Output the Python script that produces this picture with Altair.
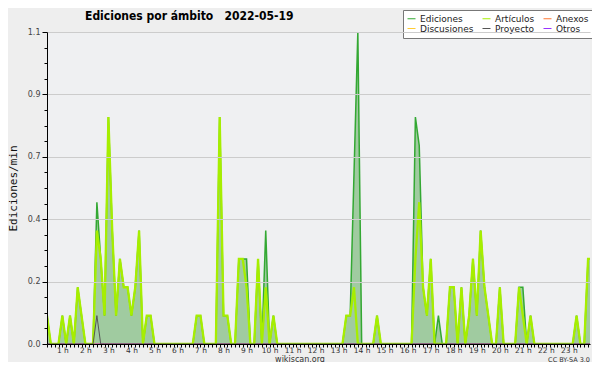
import altair as alt
import pandas as pd

# time of each sample, minutes after midnight (10-minute bins)
minutes = list(range(20, 1450, 10))

ediciones = [
    0.1, 0, 0, 0, 0.1, 0, 0.1, 0, 0.2, 0.1,            # 0-9
    0, 0, 0, 0.5, 0.3, 0.1, 0.8, 0.4, 0.1, 0.3,        # 10-19
    0.2, 0.2, 0.1, 0.2, 0.4, 0, 0.1, 0.1, 0, 0,        # 20-29
    0, 0, 0, 0, 0, 0, 0, 0, 0, 0.1,                    # 30-39
    0.1, 0, 0, 0, 0, 0.8, 0.1, 0.1, 0, 0,              # 40-49
    0.3, 0.3, 0.3, 0, 0, 0.3, 0, 0.4, 0, 0.1,          # 50-59
    0, 0, 0, 0, 0, 0, 0, 0, 0, 0,                      # 60-69
    0, 0, 0, 0, 0, 0, 0, 0, 0.1, 0.1,                  # 70-79
    0.6, 1.1, 0, 0, 0, 0, 0.1, 0, 0, 0,                # 80-89
    0, 0, 0, 0, 0, 0, 0.8, 0.7, 0.2, 0.1,              # 90-99
    0.3, 0, 0.1, 0, 0, 0.2, 0.2, 0, 0.2, 0,            # 100-109
    0.1, 0.3, 0.1, 0.4, 0.2, 0.1, 0, 0, 0.2, 0,        # 110-119
    0, 0, 0, 0.2, 0.2, 0, 0.1, 0, 0, 0,                # 120-129
    0, 0, 0, 0, 0, 0, 0, 0, 0.1, 0,                    # 130-139
    0, 0.3, 0.3,                                       # 140-142
]

articulos = [
    0.1, 0, 0, 0, 0.1, 0, 0.1, 0, 0.2, 0.1,
    0, 0, 0, 0.4, 0.3, 0.1, 0.8, 0.4, 0.1, 0.3,
    0.2, 0.2, 0.1, 0.2, 0.4, 0, 0.1, 0.1, 0, 0,
    0, 0, 0, 0, 0, 0, 0, 0, 0, 0.1,
    0.1, 0, 0, 0, 0, 0.8, 0.1, 0.1, 0, 0,
    0.3, 0.3, 0.2, 0, 0, 0.3, 0, 0.2, 0, 0.1,
    0, 0, 0, 0, 0, 0, 0, 0, 0, 0,
    0, 0, 0, 0, 0, 0, 0, 0, 0.1, 0.1,
    0.2, 0, 0, 0, 0, 0, 0.1, 0, 0, 0,
    0, 0, 0, 0, 0, 0, 0.3, 0.5, 0.2, 0.1,
    0.3, 0, 0, 0, 0, 0.2, 0.2, 0, 0.2, 0,
    0.1, 0.3, 0.1, 0.4, 0.2, 0.1, 0, 0, 0.2, 0,
    0, 0, 0, 0.2, 0.1, 0, 0.1, 0, 0, 0,
    0, 0, 0, 0, 0, 0, 0, 0, 0.1, 0,
    0, 0.3, 0.3,
]

proyecto = [0] * 13 + [0.1] + [0] * 129
anexos = [0] * 143
discusiones = [0] * 143
otros = [0] * 143

series_names = ["Ediciones", "Artículos", "Anexos", "Discusiones", "Proyecto", "Otros"]
series_colors = ["#33a833", "#a6ee00", "#ff7733", "#ffcc33", "#555555", "#9933ff"]
series_values = [ediciones, articulos, anexos, discusiones, proyecto, otros]

y_major = [0, 0.22, 0.44, 0.66, 0.88, 1.1]
y_ticks = [0, 0.055, 0.11, 0.165, 0.22, 0.275, 0.33, 0.385, 0.44, 0.495, 0.55,
           0.605, 0.66, 0.715, 0.77, 0.825, 0.88, 0.935, 0.99, 1.045, 1.1]
x_ticks = list(range(20, 1440, 10))

title_text = ["Ediciones por ámbito\u00a0\u00a0\u00a02022-05-19"]
footer_site = ["wikiscan.org"]
footer_license = ["CC BY-SA 3.0"]

rows = []
for name, vals in zip(series_names, series_values):
    for m, v in zip(minutes, vals):
        rows.append({"min": m, "value": v, "serie": name})
df = pd.DataFrame(rows)

major_test = "indexof(" + str(y_major) + ", datum.value) >= 0"

x_enc = alt.X(
    "min:Q",
    scale=alt.Scale(domain=[20, 1435], nice=False, zero=False),
    axis=alt.Axis(
        values=x_ticks,
        labelExpr="datum.value % 60 == 0 ? (datum.value / 60) + ' h' : ''",
        title=None, grid=False, tickSize=3, tickColor="black", domainColor="black",
        labelFont="DejaVu Sans", labelFontSize=7.5, labelColor="#333",
        labelPadding=-1, labelOverlap=False, labelFlush=False, zindex=1,
    ),
)
y_enc = alt.Y(
    "value:Q",
    scale=alt.Scale(domain=[0, 1.1], nice=False),
    axis=alt.Axis(
        values=y_ticks,
        labelExpr=major_test + " ? format(datum.value, '.1f') : ''",
        title="Ediciones/min", titleFont="DejaVu Sans Mono", titleFontSize=11,
        titleFontWeight="normal", titleColor="#111", titlePadding=9,
        tickColor="black", domainColor="black",
        tickSize={"condition": {"test": major_test, "value": 5}, "value": 3},
        gridColor={"condition": {"test": major_test, "value": "#cccccc"}, "value": "transparent"},
        labelFont="DejaVu Sans", labelFontSize=8, labelColor="#444",
        labelPadding=2, labelOverlap=False, zindex=1,
    ),
)

color_enc = alt.Color(
    "serie:N",
    scale=alt.Scale(domain=series_names, range=series_colors),
    legend=alt.Legend(
        title=None, orient="none", legendX=356, legendY=-22, columns=3,
        direction="horizontal",
        symbolType="stroke", symbolSize=64, symbolStrokeWidth=1,
        labelFont="DejaVu Sans", labelFontSize=9, labelColor="#222",
        fillColor="white", strokeColor="#777", padding=4,
        rowPadding=0, columnPadding=6, labelOffset=4,
    ),
)

base = alt.Chart(df)

area = base.transform_filter(alt.datum.serie == "Ediciones").mark_area(
    color="#a0cba0", clip=True, interpolate="linear"
).encode(x=x_enc, y=y_enc)

def line_layer(names, width):
    return base.transform_filter(
        alt.FieldOneOfPredicate(field="serie", oneOf=names)
    ).mark_line(strokeWidth=width, clip=True).encode(
        x=x_enc, y=y_enc, color=color_enc, detail="serie:N"
    )

zero_lines = line_layer(["Anexos", "Discusiones", "Otros"], 1)
ed_line = line_layer(["Ediciones"], 1.5)
art_line = line_layer(["Artículos"], 2.3)
proy_line = line_layer(["Proyecto"], 1)

title_mark = alt.Chart(pd.DataFrame({"t": title_text})).mark_text(
    font="DejaVu Sans Condensed, DejaVu Sans",
    fontSize=12, fontWeight="bold", color="black", align="left", baseline="alphabetic"
).encode(text="t:N", x=alt.value(38), y=alt.value(-12))

footer_left = alt.Chart(pd.DataFrame({"t": footer_site})).mark_text(
    font="DejaVu Sans", fontSize=8, color="#333", align="center", baseline="alphabetic"
).encode(text="t:N", x=alt.value(253), y=alt.value(329.5))

footer_right = alt.Chart(pd.DataFrame({"t": footer_license})).mark_text(
    font="DejaVu Sans", fontSize=6.5, color="#333", align="right", baseline="alphabetic"
).encode(text="t:N", x=alt.value(543), y=alt.value(329.5))

chart = alt.layer(
    area, zero_lines, ed_line, art_line, proy_line, title_mark, footer_left, footer_right
).properties(
    width=543, height=312,
    padding={"left": 39, "top": 24, "right": 2, "bottom": 18},
    autosize=alt.AutoSizeParams(type="none"),
    background="#eeeeee",
).configure_view(fill="#eff0f2", stroke=None)

chart.save("out.html", embed_options={"renderer": "svg", "actions": False})
